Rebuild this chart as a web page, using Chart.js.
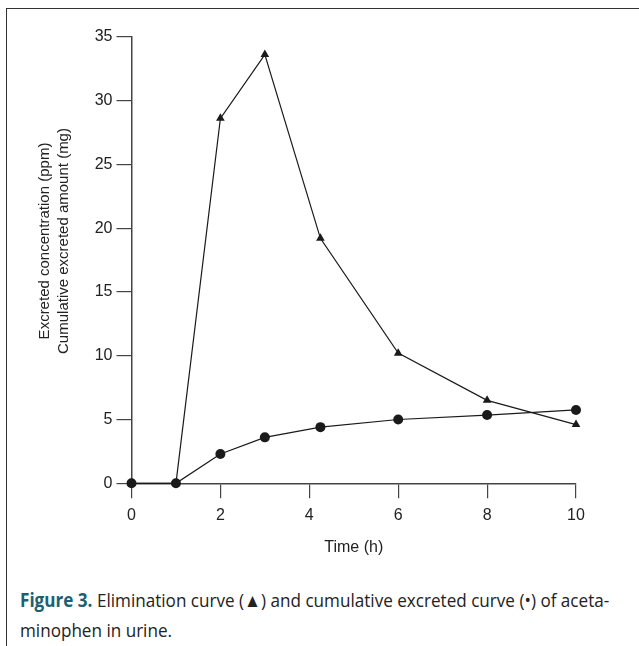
<!DOCTYPE html>
<html>
<head>
<meta charset="utf-8">
<script src="https://cdn.jsdelivr.net/npm/chart.js@4"></script>
<style>
  html, body { margin: 0; padding: 0; background: #fff; }
  body { width: 639px; height: 646px; position: relative; overflow: hidden; }
  #frame {
    position: absolute; left: 6px; top: 8px; width: 700px; height: 700px;
    border-top: 1.5px solid #333; border-left: 1.5px solid #333;
  }
  #wrap { position: absolute; left: 0; top: 0; width: 639px; height: 560px; }
  #caption {
    position: absolute; left: 20px; top: 585px;
    font-family: "Open Sans", "Noto Sans", sans-serif;
    font-size: 19px; line-height: 30px; color: #222; white-space: nowrap;
    transform: scaleX(0.9); transform-origin: 0 0;
  }
  #caption b { color: #1d5f70; }
</style>
</head>
<body>
<div id="frame"></div>
<div id="wrap"><canvas id="chart"></canvas></div>
<div id="caption"><b>Figure 3.</b> Elimination curve (▲) and cumulative excreted curve (•) of aceta-<br>minophen in urine.</div>
<script>
const times = [0, 1, 2, 3, 4.25, 6, 8, 10];
const concentration = [0, 0, 28.6, 33.6, 19.2, 10.2, 6.5, 4.6];
const cumulative = [0, 0, 2.3, 3.6, 4.4, 5.0, 5.35, 5.75];
const yTitle = ['Excreted concentration (ppm)', 'Cumulative excreted amount (mg)'];
const xTitle = 'Time (h)';

const ink = '#1a1a1a';
const axisColor = '#444';
const labelFont = '"Liberation Sans", Arial, sans-serif';

// two-line y title, centred a little above the plot's middle like the original
const yTitlePlugin = {
    id: 'yTitle',
    afterDraw(chart) {
        const ctx = chart.ctx;
        ctx.save();
        ctx.fillStyle = '#222';
        ctx.font = '15px ' + labelFont;
        ctx.textAlign = 'center';
        ctx.textBaseline = 'middle';
        yTitle.forEach((line, i) => {
            ctx.save();
            ctx.translate(45 + i * 19, 241);
            ctx.rotate(-Math.PI / 2);
            ctx.fillText(line, 0, 0);
            ctx.restore();
        });
        ctx.restore();
    }
};

const ctx = document.getElementById('chart').getContext('2d');
new Chart(ctx, {
    type: 'line',
    data: {
        datasets: [{
            label: 'Cumulative excreted amount',
            data: times.map((t, i) => ({x: t, y: cumulative[i]})),
            borderColor: ink,
            borderWidth: 1.2,
            backgroundColor: ink,
            pointStyle: 'circle',
            pointRadius: 5,
            pointBorderWidth: 0,
            tension: 0,
            clip: false,
            order: 0
        }, {
            label: 'Excreted concentration',
            data: times.map((t, i) => ({x: t, y: concentration[i]})),
            borderColor: ink,
            borderWidth: 1.2,
            backgroundColor: ink,
            pointStyle: 'triangle',
            pointRadius: 5,
            pointBorderWidth: 0,
            tension: 0,
            clip: false,
            order: 1
        }]
    },
    options: {
        responsive: true,
        maintainAspectRatio: false,
        animation: false,
        layout: {
            padding: {left: 0, top: 36.7, right: 63, bottom: 0}
        },
        plugins: {
            legend: {display: false},
            tooltip: {enabled: false}
        },
        scales: {
            x: {
                type: 'linear',
                min: 0,
                max: 10,
                afterFit: s => { s.height = 76.7; },
                ticks: {
                    stepSize: 2,
                    padding: 8,
                    color: '#222',
                    font: {family: labelFont, size: 16}
                },
                grid: {
                    drawOnChartArea: false,
                    tickLength: 15,
                    color: axisColor,
                    lineWidth: 1.2
                },
                border: {color: axisColor, width: 1.5},
                title: {
                    display: true,
                    text: xTitle,
                    color: '#222',
                    font: {family: labelFont, size: 16},
                    padding: {top: 0, bottom: 3}
                }
            },
            y: {
                min: 0,
                max: 35,
                afterFit: s => { s.width = 131.5; },
                ticks: {
                    stepSize: 5,
                    padding: 4,
                    color: '#222',
                    font: {family: labelFont, size: 16}
                },
                grid: {
                    drawOnChartArea: false,
                    tickLength: 15,
                    color: axisColor,
                    lineWidth: 1.2
                },
                border: {color: axisColor, width: 1.5}
            }
        }
    },
    plugins: [yTitlePlugin]
});
</script>
</body>
</html>
